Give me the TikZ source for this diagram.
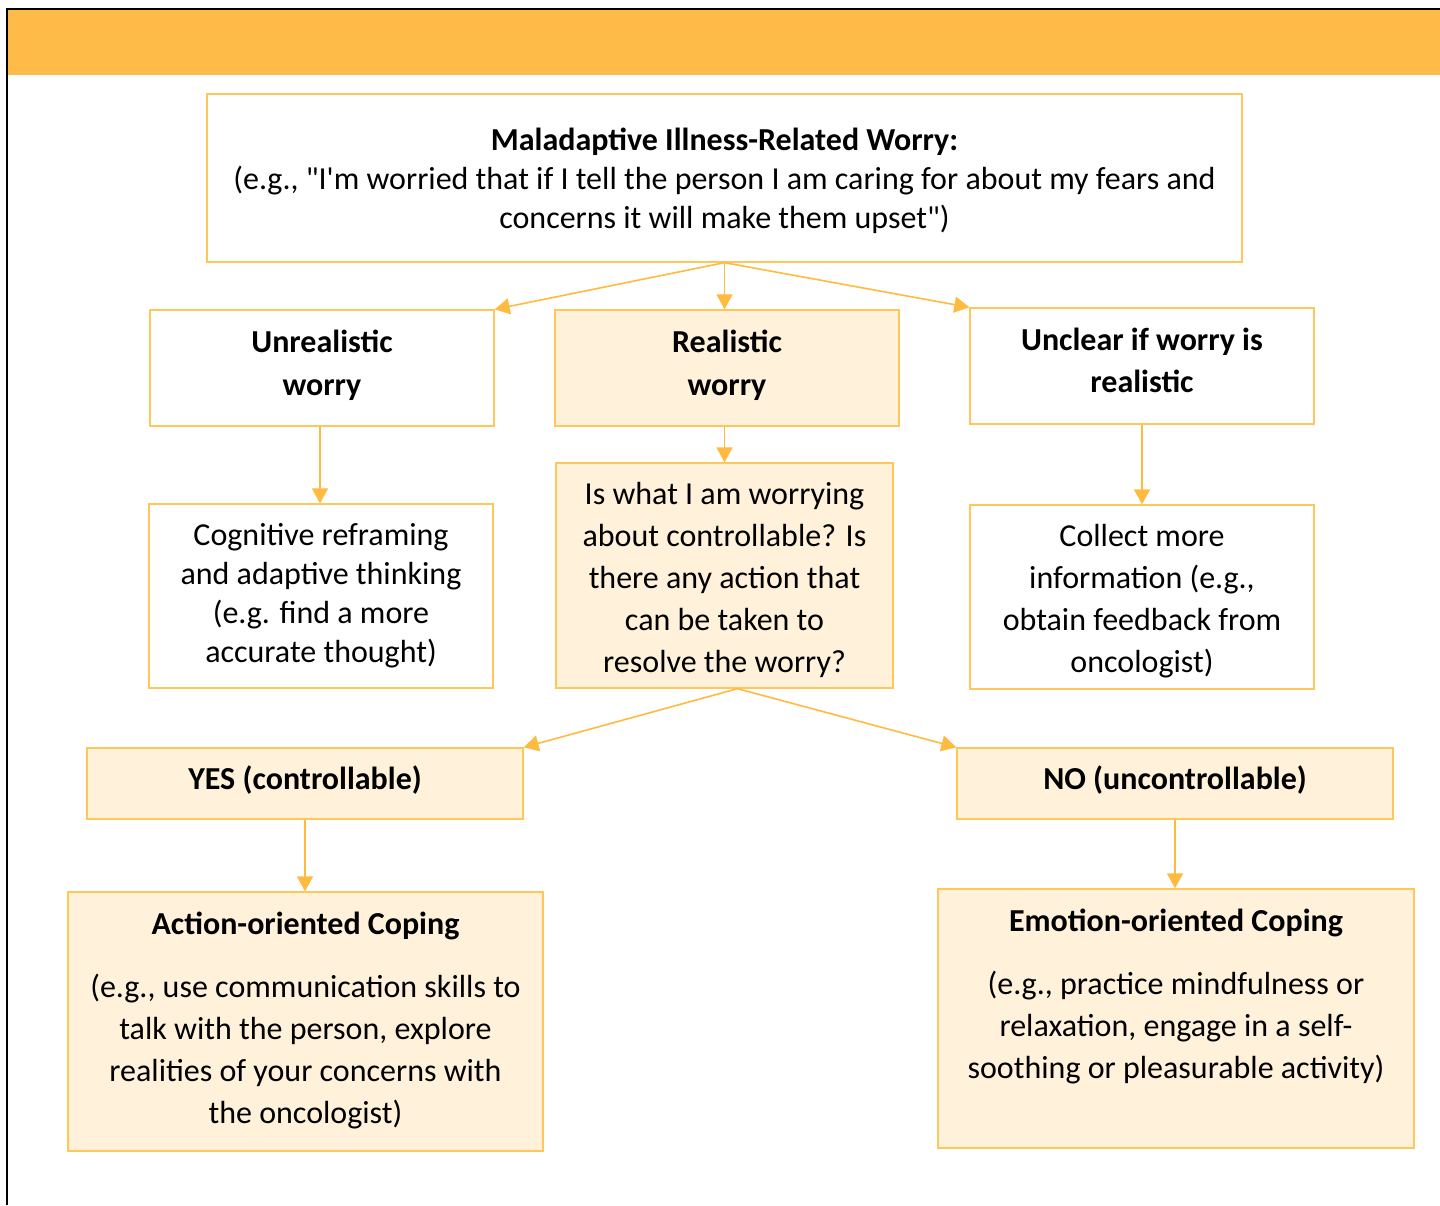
\documentclass[tikz,border=0pt]{standalone}
\usepackage{fontspec}
\setmainfont{Carlito}[Ligatures=TeXOff]
\usetikzlibrary{arrows.meta}
\definecolor{headerorange}{HTML}{FFBB48}
\definecolor{boxline}{HTML}{FFC65A}
\definecolor{arrowline}{HTML}{FFBB40}
\definecolor{boxfill}{HTML}{FFF1DA}
\begin{document}
\begin{tikzpicture}[x=1bp,y=-1bp,
  card/.style={draw=boxline, line width=1.3bp, inner sep=0pt},
  plain/.style={card, fill=white},
  shaded/.style={card, fill=boxfill},
  txt/.style={align=center, inner sep=0pt, text=black,
    font=\fontsize{32bp}{42bp}\selectfont},
  flow/.style={draw=arrowline, line width=1.6bp,
    -{Triangle[length=15bp,width=16bp]}}
]
\useasboundingbox (0,0) rectangle (1440,1205);
\fill[white] (0,0) rectangle (1440,1205);
% header band and frame
\fill[headerorange] (8,10) rectangle (1440,75);
\draw[line width=2.5bp] (7,1205) -- (7,9) -- (1440,9);

% boxes
\node[plain, minimum width=1035bp, minimum height=168bp] (worry) at (724.5,178) {};
\node[plain, minimum width=344bp, minimum height=116bp] (unreal) at (322,368) {};
\node[shaded, minimum width=344bp, minimum height=116bp] (real) at (727,368) {};
\node[plain, minimum width=344bp, minimum height=116bp] (unclear) at (1142,366) {};
\node[plain, minimum width=344bp, minimum height=184bp] (reframe) at (321,596) {};
\node[shaded, minimum width=337bp, minimum height=225bp] (control) at (724.5,575.5) {};
\node[plain, minimum width=344bp, minimum height=184bp] (collect) at (1142,597) {};
\node[shaded, minimum width=436bp, minimum height=71bp] (yes) at (305,783.5) {};
\node[shaded, minimum width=436bp, minimum height=71bp] (no) at (1175,783.5) {};
\node[shaded, minimum width=475bp, minimum height=259bp] (action) at (305.5,1021.5) {};
\node[shaded, minimum width=476bp, minimum height=259bp] (emotion) at (1176,1018.5) {};

% box texts
\node[txt, font=\fontsize{32bp}{39bp}\selectfont] (worrytext) at (724.5,181)
  {\textbf{Maladaptive Illness-Related Worry:}\\(e.g., "I'm worried that if I tell the person I am caring for about my fears and\\concerns it will make them upset")};
\node[txt, font=\fontsize{32bp}{43bp}\selectfont\bfseries] (unrealtext) at (322,365)
  {Unrealistic\\worry};
\node[txt, font=\fontsize{32bp}{43bp}\selectfont\bfseries] (realtext) at (727,365)
  {Realistic\\worry};
\node[txt, font=\fontsize{32bp}{42bp}\selectfont\bfseries] (uncleartext) at (1142,360)
  {Unclear if worry is\\realistic};
\node[txt, font=\fontsize{32bp}{39bp}\selectfont] (reframetext) at (321,596)
  {Cognitive reframing\\and adaptive thinking\\(e.g. find a more\\accurate thought)};
\node[txt] (controltext) at (724.5,580)
  {Is what I am worrying\\about controllable? Is\\there any action that\\can be taken to\\resolve the worry?};
\node[txt] (collecttext) at (1142,601)
  {Collect more\\information (e.g.,\\obtain feedback from\\oncologist)};
\node[txt, font=\fontsize{32bp}{42bp}\selectfont\bfseries] (yestext) at (305,780.5)
  {YES (controllable)};
\node[txt, font=\fontsize{32bp}{42bp}\selectfont\bfseries] (notext) at (1175,780.5)
  {NO (uncontrollable)};
\node[txt] (actiontext) at (305.5,1020)
  {\textbf{Action-oriented Coping}\\[21bp](e.g., use communication skills to\\talk with the person, explore\\realities of your concerns with\\the oncologist)};
\node[txt] (emotiontext) at (1176,1015)
  {\textbf{Emotion-oriented Coping}\\[21bp](e.g., practice mindfulness or\\relaxation, engage in a self-\\soothing or pleasurable activity)\\\mbox{}};

% connectors
\draw[flow] (worry.south) -- (unreal.north east);
\draw[flow] (worry.south) -- (worry.south |- real.north);
\draw[flow] (worry.south) -- (unclear.north west);
\draw[flow] ([xshift=-1bp]reframe.north |- unreal.south) -- ([xshift=-1bp]reframe.north);
\draw[flow] (control.north |- real.south) -- (control.north);
\draw[flow] (unclear.south) -- (unclear.south |- collect.north);
\draw[flow] ([xshift=13bp]control.south) -- (yes.north east);
\draw[flow] ([xshift=13bp]control.south) -- (no.north west);
\draw[flow] (yes.south) -- (yes.south |- action.north);
\draw[flow] (no.south) -- (no.south |- emotion.north);
\end{tikzpicture}
\end{document}
